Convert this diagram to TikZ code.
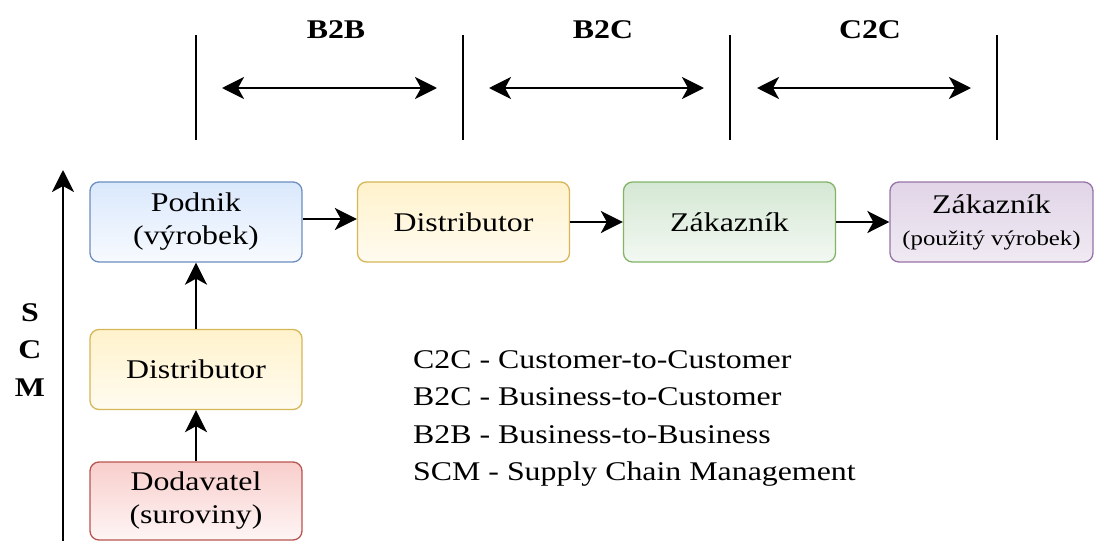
\documentclass[tikz,border=0pt]{standalone}
\usepackage{fontspec}
\setmainfont{Liberation Serif}[FakeStretch=1.18]
\usetikzlibrary{arrows.meta}
\definecolor{bluef}{HTML}{DAE8FC}\definecolor{blues}{HTML}{6C8EBF}
\definecolor{yelf}{HTML}{FFF2CC}\definecolor{yels}{HTML}{D6B656}
\definecolor{grnf}{HTML}{D5E8D4}\definecolor{grns}{HTML}{82B366}
\definecolor{purf}{HTML}{E1D5E7}\definecolor{purs}{HTML}{9673A6}
\definecolor{redf}{HTML}{F8CECC}\definecolor{reds}{HTML}{B85450}
\tikzset{
  box/.style={rectangle, rounded corners=9pt, line width=1.3pt, minimum width=212pt, minimum height=80pt, align=center, inner sep=2pt, font=\fontsize{27}{33}\selectfont},
  bluebox/.style={box, draw=blues, top color=bluef, bottom color=bluef!20!white},
  yelbox/.style={box, draw=yels, top color=yelf, bottom color=yelf!30!white},
  grnbox/.style={box, draw=grns, top color=grnf, bottom color=grnf!30!white},
  purbox/.style={box, draw=purs, top color=purf, bottom color=purf!50!white},
  redbox/.style={box, draw=reds, top color=redf, bottom color=redf!20!white},
  tip/.tip={Stealth[length=22pt,width=22pt,inset=6pt]},
  arr/.style={line width=2.6pt, -tip},
  darr/.style={line width=2.6pt, tip-tip},
  bar/.style={line width=1.6pt},
  lbl/.style={font=\fontsize{27}{33}\selectfont\bfseries, inner sep=0pt},
}
\begin{document}
\begin{tikzpicture}[x=1pt,y=-1pt]
\useasboundingbox (0,0) rectangle (1096,541);
% top separators
\coordinate (v1t) at (196,35); \coordinate (v1b) at (196,140);
\coordinate (v2t) at (463,35); \coordinate (v2b) at (463,140);
\coordinate (v3t) at (730,35); \coordinate (v3b) at (730,140);
\coordinate (v4t) at (997,35); \coordinate (v4b) at (997,140);
\foreach \i in {1,2,3,4} {\draw[bar] (v\i t) -- (v\i b);}
\coordinate (a1l) at (222,88); \coordinate (a1r) at (437,88);
\coordinate (a2l) at (489,88); \coordinate (a2r) at (704,88);
\coordinate (a3l) at (757,88); \coordinate (a3r) at (971,88);
\draw[darr] (a1l) -- (a1r);
\draw[darr] (a2l) -- (a2r);
\draw[darr] (a3l) -- (a3r);
\node[lbl] (b2b) at (336,30) {B2B};
\node[lbl] (b2c) at (603,30) {B2C};
\node[lbl] (c2c) at (870,30) {C2C};
% boxes
\node[bluebox] (podnik) at (196,222) {Podnik\\(výrobek)};
\node[yelbox] (dist) at (463.5,222) {Distributor};
\node[grnbox] (zak) at (729.5,222) {Zákazník};
\node[purbox, minimum width=203pt] (zak2) at (991.5,222) {Zákazník\\[-1pt]{\fontsize{21}{25}\selectfont(použitý výrobek)}};
\node[yelbox] (dist2) at (196,369.5) {Distributor};
\node[redbox, minimum height=78pt] (dod) at (196,501) {Dodavatel\\(suroviny)};
% connectors
\draw[arr] ([yshift=3pt]podnik.east) -- ([yshift=3pt]dist.west);
\draw[arr] (dist.east) -- (zak.west);
\draw[arr] (zak.east) -- (zak2.west);
\draw[arr] (dist2.north) -- (podnik.south);
\draw[arr] (dod.north) -- (dist2.south);
% SCM axis
\coordinate (sb) at (63,545); \coordinate (st) at (63,170);
\draw[arr] (sb) -- (st);
\node[lbl] (s) at (30,313) {S};
\node[lbl] (c) at (30,350) {C};
\node[lbl] (m) at (30,388) {M};
% legend
\node[anchor=north west, align=left, inner sep=0pt, font=\fontsize{27}{37.5}\selectfont] (legend) at (413,350) {C2C - Customer-to-Customer\\B2C - Business-to-Customer\\B2B - Business-to-Business\\SCM - Supply Chain Management};
\end{tikzpicture}
\end{document}
